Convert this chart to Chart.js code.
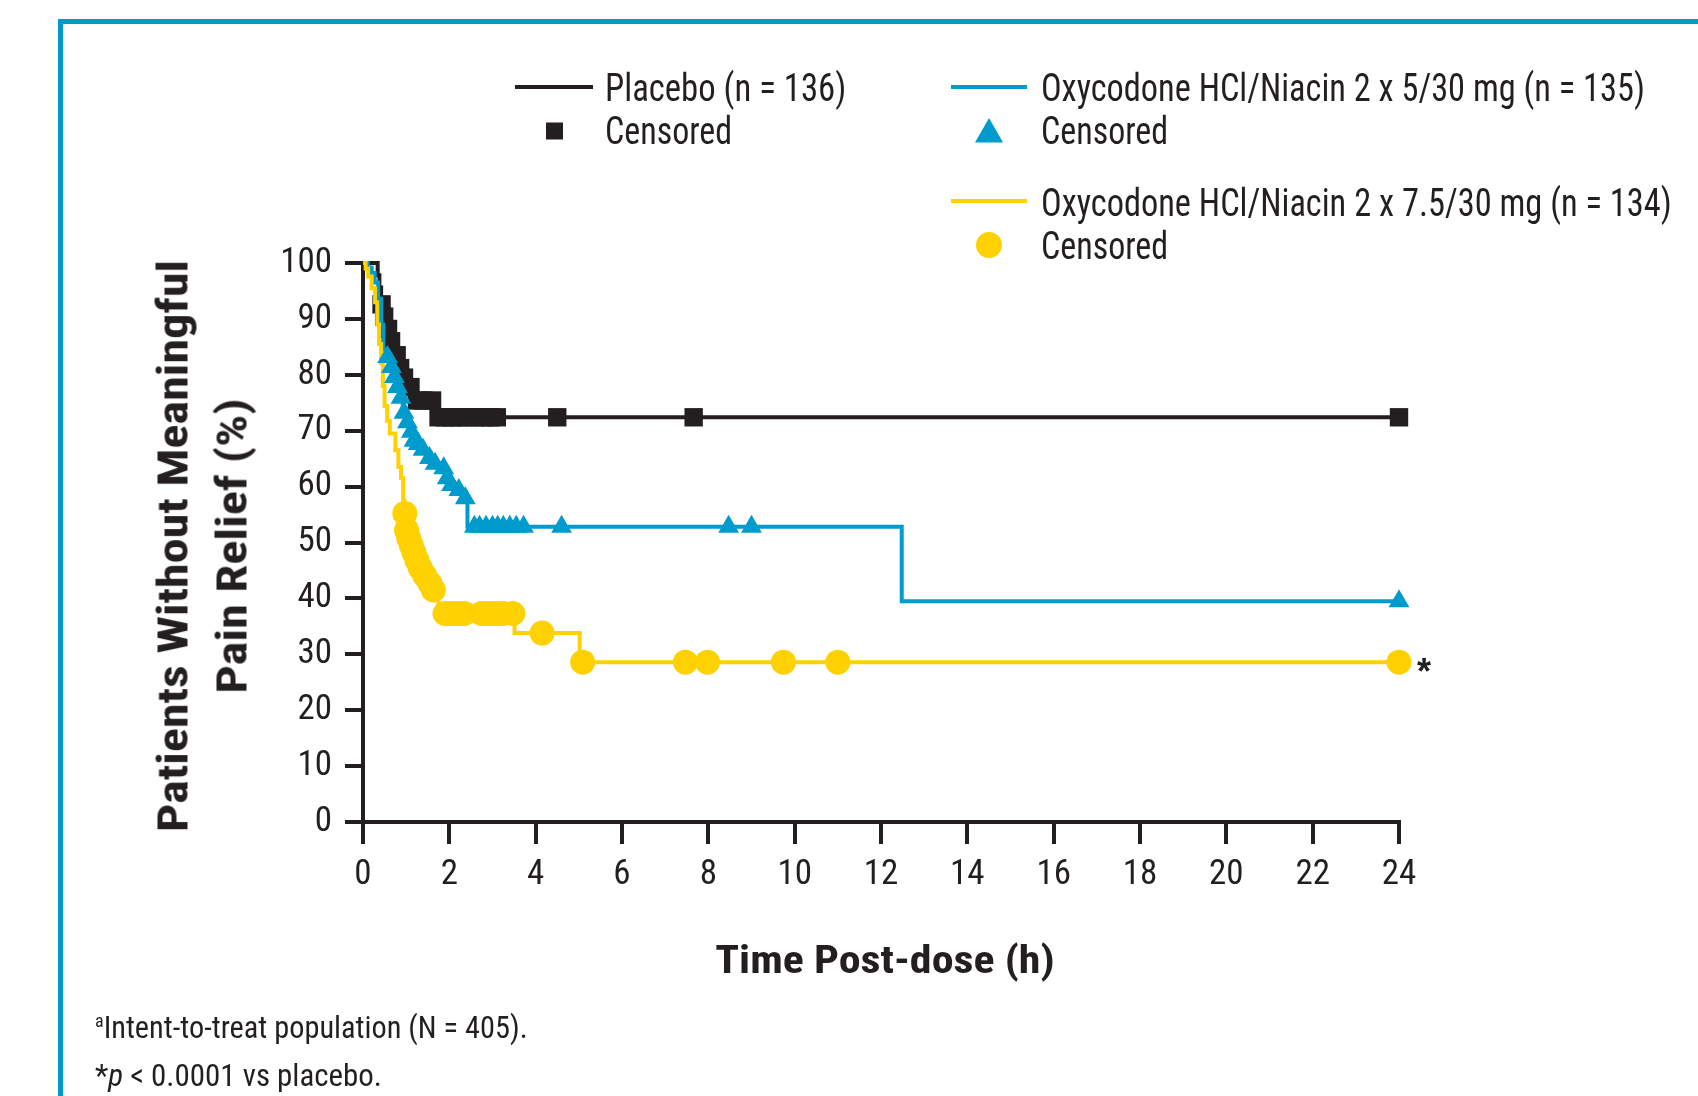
<!DOCTYPE html>
<html>
<head>
<meta charset="utf-8">
<script src="https://cdn.jsdelivr.net/npm/chart.js@4.4.1/dist/chart.umd.min.js"></script>
<style>
  html, body { margin: 0; padding: 0; background: #fff; }
  body { width: 1698px; height: 1096px; position: relative; overflow: hidden; }
  #frame { position: absolute; left: 58px; top: 19px; width: 1700px; height: 1100px;
           border-top: 5px solid #009bcd; border-left: 5px solid #009bcd; }
  #plot { position: absolute; left: 0; top: 0; }
  .t { position: absolute; white-space: nowrap; line-height: 1; color: #231f20;
       transform-origin: left center; font-family: 'Liberation Sans', Arial, sans-serif; }
  .leg { font-size: 38px; }
  .note { font-size: 32px; }
  .bold { font-weight: bold; }
  .mid { transform-origin: center center; }
</style>
</head>
<body>
<div id="frame"></div>
<canvas id="plot" width="1698" height="1096"></canvas>

<div class="t leg narrow" data-w="241" style="left:605px; top:88px;">Placebo (n = 136)</div>
<div class="t leg narrow" data-w="127" style="left:605px; top:131px;">Censored</div>
<div class="t leg narrow" data-w="604" style="left:1041px; top:88px;">Oxycodone HCl/Niacin 2 x 5/30 mg (n = 135)</div>
<div class="t leg narrow" data-w="127" style="left:1041px; top:131px;">Censored</div>
<div class="t leg narrow" data-w="631" style="left:1041px; top:203px;">Oxycodone HCl/Niacin 2 x 7.5/30 mg (n = 134)</div>
<div class="t leg narrow" data-w="127" style="left:1041px; top:246px;">Censored</div>

<div class="t bold mid narrow" data-w="572" data-rot="1" style="left:173px; top:546px; font-size:43px;">Patients Without Meaningful</div>
<div class="t bold mid narrow" data-w="295" data-rot="1" style="left:232px; top:546px; font-size:43px;">Pain Relief (%)</div>
<div class="t bold mid narrow" data-w="339" style="left:885px; top:960px; font-size:38px;">Time Post-dose (h)</div>
<div class="t bold" style="left:1417px; top:672px; font-size:36px;">*</div>

<div class="t note narrow" data-w="433" style="left:95px; top:1027px;"><span style="font-size:19px; vertical-align: 11px;">a</span>Intent-to-treat population (N = 405).</div>
<div class="t note narrow" data-w="287" style="left:95px; top:1075px;">*<i>p</i> &lt; 0.0001 vs placebo.</div>

<script>
// Kaplan-Meier step curves: event times (h) and survival (%) after each step
const placeboTimes = [0, 0.34, 0.38, 0.42, 0.47, 0.55, 0.62, 0.72, 0.82, 0.9, 1.0, 1.15, 1.68, 24];
const placeboSurv  = [100, 97.8, 95.6, 92.6, 90.4, 88.2, 86, 83.5, 81.2, 79.5, 77.8, 75.4, 72.4, 72.4];

const lowDoseTimes = [0, 0.11, 0.2, 0.27, 0.35, 0.42, 0.47, 0.55, 0.64, 0.7, 0.78, 0.86, 0.92, 1.0, 1.1, 1.15,
                      1.25, 1.35, 1.5, 1.62, 1.82, 1.92, 2.0, 2.15, 2.3, 2.42, 12.48, 24];
const lowDoseSurv  = [100, 99.2, 98.2, 96.5, 93.6, 89, 84.5, 83.2, 81.4, 79.6, 77.8, 75.9, 73.2, 71.5, 69.8, 68.2,
                      67.6, 66.6, 65.1, 64.1, 63.3, 61.5, 60.3, 59.4, 57.9, 52.8, 39.5, 39.5];

const highDoseTimes = [0, 0.06, 0.12, 0.2, 0.28, 0.33, 0.37, 0.42, 0.46, 0.5, 0.56, 0.62, 0.75, 0.82, 0.88, 0.93,
                       0.96, 1.0, 1.05, 1.1, 1.16, 1.23, 1.3, 1.4, 1.52, 1.6, 1.75, 3.51, 5.02, 24];
const highDoseSurv  = [100, 99, 97.6, 95.5, 93, 89, 85.5, 82, 78, 74.4, 71.8, 69.5, 66.5, 63.5, 61.5, 57.5,
                       55.2, 52.2, 50.8, 49.5, 48.2, 46.8, 45.4, 44.1, 42.7, 41.5, 37.3, 33.8, 28.6, 28.6];

// Censored observations
const placeboCensTimes = [0.43, 0.49, 0.58, 0.65, 0.78, 0.86, 0.95, 1.1, 1.25, 1.4, 1.6, 1.75, 1.9, 2.05, 2.2,
                          2.4, 2.6, 2.8, 2.95, 3.1, 4.5, 7.66, 24];
const placeboCensSurv  = [92.6, 90.4, 88.2, 86, 83.5, 81.2, 79.5, 77.8, 75.4, 75.4, 75.4, 72.4, 72.4, 72.4, 72.4,
                          72.4, 72.4, 72.4, 72.4, 72.4, 72.4, 72.4, 72.4];

const lowDoseCensTimes = [0.57, 0.66, 0.73, 0.8, 0.88, 0.95, 1.03, 1.12, 1.18, 1.28, 1.39, 1.54, 1.67, 1.87, 1.95,
                          2.05, 2.22, 2.37, 2.58, 2.7, 2.85, 3.0, 3.12, 3.25, 3.4, 3.55, 3.72, 4.6, 8.47, 9.0, 24];
const lowDoseCensSurv  = [83.2, 81.4, 79.6, 77.8, 75.9, 73.2, 71.5, 69.8, 68.2, 67.6, 66.6, 65.1, 64.1, 63.3, 61.5,
                          60.3, 59.4, 57.9, 52.8, 52.8, 52.8, 52.8, 52.8, 52.8, 52.8, 52.8, 52.8, 52.8, 52.8, 52.8, 39.5];

const highDoseCensTimes = [0.97, 1.01, 1.06, 1.12, 1.18, 1.25, 1.33, 1.43, 1.55, 1.63, 1.9, 2.0, 2.12, 2.25, 2.35,
                           2.75, 2.88, 3.0, 3.12, 3.25, 3.47, 4.15, 5.09, 7.47, 7.98, 9.74, 11.0, 24];
const highDoseCensSurv  = [55.2, 52.2, 50.8, 49.5, 48.2, 46.8, 45.4, 44.1, 42.7, 41.5, 37.3, 37.3, 37.3, 37.3, 37.3,
                           37.3, 37.3, 37.3, 37.3, 37.3, 37.3, 33.8, 28.6, 28.6, 28.6, 28.6, 28.6, 28.6];

// Axis ticks
const xTickValues = [0, 2, 4, 6, 8, 10, 12, 14, 16, 18, 20, 22, 24];
const yTickValues = [0, 10, 20, 30, 40, 50, 60, 70, 80, 90, 100];

const INK = '#231f20';
const BLUE = '#009bcd';
const GOLD = '#ffd100';

// Find an installed condensed face for the narrow typography, if there is one
function pickCondensed() {
  const cv = document.createElement('canvas').getContext('2d');
  const sample = 'Censored Oxycodone 0123456789';
  const w = f => { cv.font = '10px serif'; cv.font = f; return cv.measureText(sample).width; };
  const base = w("36px 'Liberation Sans', serif");
  const cands = [
    { family: "'Liberation Sans Narrow'", stretch: '' },
    { family: "'Arial Narrow'", stretch: '' },
    { family: "'Roboto Condensed'", stretch: '' },
    { family: "'DejaVu Sans Condensed'", stretch: '' },
    { family: "'Noto Sans'", stretch: 'condensed' },
    { family: "'Open Sans'", stretch: 'condensed' },
    { family: 'Roboto', stretch: 'condensed' },
    { family: "'Noto Sans'", stretch: 'semi-condensed' },
    { family: "'DejaVu Sans'", stretch: 'condensed' }
  ];
  for (const c of cands) {
    const pre = c.stretch ? c.stretch + ' ' : '';
    const a = w(pre + '36px ' + c.family + ', monospace');
    const b = w(pre + '36px ' + c.family + ', serif');
    if (Math.abs(a - b) > 0.5) continue;
    if (a > base * 0.5 && a < base * 0.9) return c;
  }
  return null;
}
const condensed = pickCondensed();

// Apply the narrow face to the text blocks and fit each block to its set width
document.querySelectorAll('.t').forEach(el => {
  if (condensed && el.classList.contains('narrow')) {
    el.style.fontFamily = condensed.family + ', sans-serif';
    el.style.fontStretch = condensed.stretch || 'normal';
  }
  const target = parseFloat(el.dataset.w || '0');
  const natural = el.offsetWidth;
  const k = target && natural ? target / natural : 1;
  if (el.classList.contains('mid')) {
    el.style.transform = 'translate(-50%, -50%)' + (el.dataset.rot ? ' rotate(-90deg)' : '') + ' scaleX(' + k + ')';
  } else {
    el.style.transform = 'translateY(-50%) scaleX(' + k + ')';
  }
});

const tickFont = condensed
  ? { family: condensed.family, size: 35, weight: condensed.stretch || undefined }
  : { family: "'Liberation Sans', Arial, sans-serif", size: 33 };

const toPoints = (xs, ys) => xs.map((x, i) => ({ x: x, y: ys[i] }));

const stepLine = (xs, ys, color, order) => ({
  data: toPoints(xs, ys), showLine: true, stepped: 'before',
  borderColor: color, borderWidth: 4, pointRadius: 0, fill: false, clip: false, order: order
});
const marks = (xs, ys, color, style, radius, order) => ({
  data: toPoints(xs, ys), showLine: false, pointStyle: style, pointRadius: radius,
  backgroundColor: color, borderColor: color, borderWidth: 0, clip: false, order: order
});

// Legend swatches drawn on the canvas next to the text entries
const legendSwatches = {
  id: 'legendSwatches',
  afterDraw(chart) {
    const c = chart.ctx;
    c.save();
    c.lineWidth = 4;
    const seg = (x1, x2, y, col) => { c.strokeStyle = col; c.beginPath(); c.moveTo(x1, y); c.lineTo(x2, y); c.stroke(); };
    seg(515, 593, 87, INK);
    seg(951, 1027, 87, BLUE);
    seg(951, 1027, 201, GOLD);
    c.fillStyle = INK;
    c.fillRect(546, 122.5, 17, 17);
    c.fillStyle = BLUE;
    c.beginPath(); c.moveTo(989, 118); c.lineTo(1003, 142.5); c.lineTo(975, 142.5); c.closePath(); c.fill();
    c.fillStyle = GOLD;
    c.beginPath(); c.arc(989, 245, 13, 0, Math.PI * 2); c.fill();
    c.restore();
  }
};

new Chart(document.getElementById('plot'), {
  type: 'scatter',
  data: {
    datasets: [
      marks(highDoseCensTimes, highDoseCensSurv, GOLD, 'circle', 12.5, 1),
      marks(lowDoseCensTimes, lowDoseCensSurv, BLUE, 'triangle', 12, 2),
      stepLine(highDoseTimes, highDoseSurv, GOLD, 3),
      stepLine(lowDoseTimes, lowDoseSurv, BLUE, 4),
      marks(placeboCensTimes, placeboCensSurv, INK, 'rect', 13, 5),
      stepLine(placeboTimes, placeboSurv, INK, 6)
    ]
  },
  options: {
    responsive: false,
    animation: false,
    events: [],
    layout: { padding: { left: 0, top: 263, right: 299, bottom: 0 } },
    plugins: { legend: { display: false }, tooltip: { enabled: false }, title: { display: false } },
    scales: {
      x: {
        type: 'linear', min: 0, max: 24,
        afterBuildTicks: s => { s.ticks = xTickValues.map(v => ({ value: v })); },
        afterFit: s => { s.height = 274; },
        border: { display: true, color: INK, width: 4 },
        grid: { drawOnChartArea: false, drawTicks: true, tickLength: 22, color: INK, lineWidth: 4, tickColor: INK, tickWidth: 4 },
        ticks: { color: INK, font: tickFont, padding: 10, maxRotation: 0, autoSkip: false }
      },
      y: {
        type: 'linear', min: 0, max: 100,
        afterBuildTicks: s => { s.ticks = yTickValues.map(v => ({ value: v })); },
        afterFit: s => { s.width = 363; },
        border: { display: true, color: INK, width: 4 },
        grid: { drawOnChartArea: false, drawTicks: true, tickLength: 18, color: INK, lineWidth: 4, tickColor: INK, tickWidth: 4 },
        ticks: { color: INK, font: tickFont, padding: 13, autoSkip: false }
      }
    }
  },
  plugins: [legendSwatches]
});
</script>
</body>
</html>
